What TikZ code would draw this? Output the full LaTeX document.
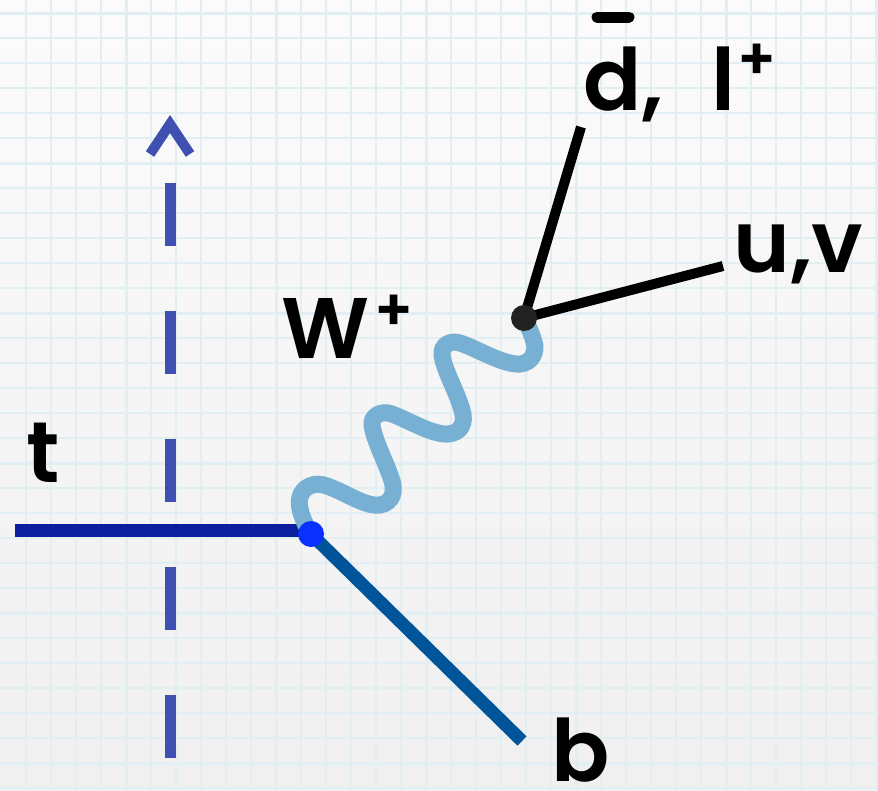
\documentclass[tikz,border=0pt]{standalone}
\usepackage{fontspec}
\setmainfont{Poppins}[BoldFont=* SemiBold]
\usepackage{tikz}
\usetikzlibrary{arrows.meta}
\definecolor{gridblue}{HTML}{E1EEF2}
\definecolor{topline}{HTML}{0A1E9E}
\definecolor{botline}{HTML}{00559A}
\definecolor{wavecol}{HTML}{78B0D4}
\definecolor{dircol}{HTML}{4050B0}
\definecolor{dotblue}{HTML}{0A30FF}
\definecolor{dotblack}{HTML}{222222}
\tikzset{
  gridline/.style={gridblue,line width=1.5pt},
  gridmajor/.style={gridblue,line width=3pt},
  label/.style={inner sep=0pt,anchor=base west,font=\fontsize{86}{86}\selectfont\bfseries},
  sup/.style={inner sep=0pt,anchor=base west,font=\fontsize{58}{58}\selectfont\bfseries},
  vertex/.style={circle,inner sep=0pt,minimum size=26pt},
  fermion/.style={line width=13pt},
  decay/.style={black,line width=10pt},
  boson/.style={wavecol,line width=17pt},
  spin/.style={dircol,line width=11pt,line join=round,dash pattern=on 63pt off 65pt,
    -{Straight Barb[length=30pt,width=40pt,line width=10pt]}},
}
\begin{document}
\begin{tikzpicture}[x=1pt,y=-1pt]
  \useasboundingbox (0,0) rectangle (878,790);
  \shade[top color=white!50!gray!6,bottom color=gray!12] (0,0) rectangle (878,790);
  % graph paper
  \foreach \x in {1,...,35}
    \draw[gridline] ({1+25*\x},0) -- ({1+25*\x},790);
  \foreach \y in {0,...,31}
    \draw[gridline] (0,{13+25*\y}) -- (878,{13+25*\y});
  \foreach \x in {126,276,426,576,726,876}
    \draw[gridmajor] (\x,0) -- (\x,790);
  \foreach \y in {13,163,313,463,613,763}
    \draw[gridmajor] (0,\y) -- (878,\y);

  \coordinate (tin) at (15,530);
  \coordinate (tout) at (311,530);
  \coordinate (bout) at (522,741);
  \coordinate (dout) at (581,127);
  \coordinate (uout) at (723,266);
  \coordinate (spinbot) at (170,758);
  \coordinate (spintop) at (170,115);
  \coordinate (barl) at (597,17);
  \coordinate (barr) at (629,17);
  \node[vertex] (vtb) at (311,534) {};
  \node[vertex] (vw) at (524,318) {};

  \draw[spin] (spinbot) -- (spintop);
  \draw[fermion,topline] (tin) -- (tout);
  \draw[fermion,botline] (vtb.center) -- (bout);
  \draw[boson] (vtb.center) .. controls (303,522) and (297,505) .. (300,497)
    .. controls (303,487) and (314,481) .. (327,486)
    .. controls (345,492) and (365,507) .. (380,505)
    .. controls (393,503) and (396,490) .. (391,478)
    .. controls (385,460) and (374,440) .. (372,425)
    .. controls (371,416) and (381,410) .. (392,414)
    .. controls (410,421) and (433,435) .. (448,434)
    .. controls (461,433) and (466,423) .. (462,410)
    .. controls (457,392) and (444,370) .. (442,355)
    .. controls (441,345) and (450,340) .. (460,343)
    .. controls (478,349) and (503,365) .. (520,364)
    .. controls (533,363) and (537,350) .. (534,342)
    .. controls (532,334) and (528,326) .. (vw.center);
  \draw[decay] (vw.center) -- (dout);
  \draw[decay] (vw.center) -- (uout);
  \fill[dotblue] (vtb) circle (13);
  \fill[dotblack] (vw) circle (13);

  \node[label] (tlab) at (26,482) {t};
  \node[label] (wlab) at (281,358) {W};
  \node[sup] (wplus) at (374,330) {+};
  \node[label] (blab) at (551,781) {b};
  \node[label] (dlab) at (583,110) {d,\hspace{48pt}l};
  \node[sup] (lplus) at (737,79) {+};
  \node[label] (ulab) at (733,272) {u,v};
  \draw[black,line width=11pt,line cap=round] (barl) -- (barr);
\end{tikzpicture}
\end{document}
